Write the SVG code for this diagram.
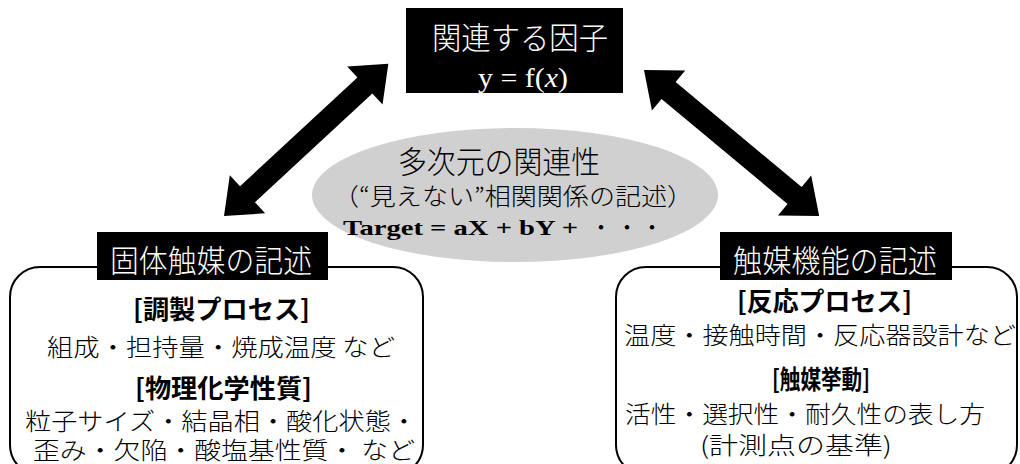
<svg xmlns="http://www.w3.org/2000/svg" width="1020" height="464" viewBox="0 0 1020 464">
<defs>
<style>
.jp{font-family:"Noto Sans CJK JP","Noto Sans",sans-serif;font-weight:300;}
.lab{fill:#fff;font-size:31px;}
.hd{font-size:26px;font-weight:bold;fill:#000;}
.ln{font-size:24px;fill:#000;}
.ser{font-family:"Liberation Serif","Times New Roman",serif;}
.frame{fill:#fff;stroke:#000;stroke-width:2;}
.arrow{fill:#000;}
</style>
</defs>
<rect width="1020" height="464" fill="#fff"/>

<g id="connectors">
<path class="arrow" transform="translate(224,216) rotate(-42.8)" d="M0,0 L32,-26 L32,-11 L192,-11 L192,-26 L224,0 L192,26 L192,11 L32,11 L32,26 Z"/>
<path class="arrow" transform="translate(644,70) rotate(39.8)" d="M0,0 L32,-26 L32,-11 L196,-11 L196,-26 L228,0 L196,26 L196,11 L32,11 L32,26 Z"/>
</g>

<g id="node-top">
<rect x="406" y="8" width="217" height="85" fill="#000"/>
<text class="jp lab" x="520" y="49" text-anchor="middle" textLength="176" lengthAdjust="spacingAndGlyphs">関連する因子</text>
<text class="ser" x="523" y="87" text-anchor="middle" font-size="28" fill="#fff" textLength="90" lengthAdjust="spacingAndGlyphs">y = f(<tspan font-style="italic">x</tspan>)</text>
</g>

<g id="node-center">
<ellipse cx="515" cy="195" rx="203" ry="67" fill="#d0d0d0"/>
<text class="jp" x="499" y="173" text-anchor="middle" font-size="31" textLength="202" lengthAdjust="spacingAndGlyphs">多次元の関連性</text>
<text class="jp" x="513" y="205" text-anchor="middle" font-size="24" textLength="360" lengthAdjust="spacingAndGlyphs">（“見えない”相関関係の記述）</text>
<text class="ser" x="343" y="235" font-size="22" font-weight="bold" textLength="235" lengthAdjust="spacingAndGlyphs">Target = aX + bY +</text>
<text class="jp" y="236" font-size="24" font-weight="bold" text-anchor="middle"><tspan x="601">・</tspan><tspan x="627">・</tspan><tspan x="652">・</tspan></text>
</g>

<g id="node-left">
<rect class="frame" x="10" y="267" width="413" height="208" rx="30" ry="30"/>
<rect x="97" y="232" width="231" height="48" fill="#000"/>
<text class="jp lab" x="211" y="272" text-anchor="middle" textLength="202" lengthAdjust="spacingAndGlyphs">固体触媒の記述</text>
<text class="jp hd" x="221.5" y="319" text-anchor="middle" textLength="177" lengthAdjust="spacingAndGlyphs">[調製プロセス]</text>
<text class="jp ln" x="221" y="356" text-anchor="middle" textLength="348" lengthAdjust="spacingAndGlyphs">組成・担持量・焼成温度 など</text>
<text class="jp hd" x="223.5" y="398" text-anchor="middle" textLength="177" lengthAdjust="spacingAndGlyphs">[物理化学性質]</text>
<text class="jp ln" x="221" y="430" text-anchor="middle" textLength="392" lengthAdjust="spacingAndGlyphs">粒子サイズ・結晶相・酸化状態・</text>
<text class="jp ln" x="224" y="459" text-anchor="middle" textLength="382" lengthAdjust="spacingAndGlyphs">歪み・欠陥・酸塩基性質・ など</text>
</g>

<g id="node-right">
<rect class="frame" x="616" y="267" width="401" height="208" rx="30" ry="30"/>
<rect x="720" y="232" width="232" height="48" fill="#000"/>
<text class="jp lab" x="835" y="272" text-anchor="middle" textLength="204" lengthAdjust="spacingAndGlyphs">触媒機能の記述</text>
<text class="jp hd" x="824.5" y="311" text-anchor="middle" textLength="175" lengthAdjust="spacingAndGlyphs">[反応プロセス]</text>
<text class="jp ln" x="820" y="344" text-anchor="middle" textLength="392" lengthAdjust="spacingAndGlyphs">温度・接触時間・反応器設計など</text>
<text class="jp hd" x="821" y="389" text-anchor="middle" textLength="98" lengthAdjust="spacingAndGlyphs">[触媒挙動]</text>
<text class="jp ln" x="805" y="423" text-anchor="middle" textLength="360" lengthAdjust="spacingAndGlyphs">活性・選択性・耐久性の表し方</text>
<text class="jp ln" x="796" y="454" text-anchor="middle" textLength="192" lengthAdjust="spacingAndGlyphs">(計測点の基準)</text>
</g>
</svg>
